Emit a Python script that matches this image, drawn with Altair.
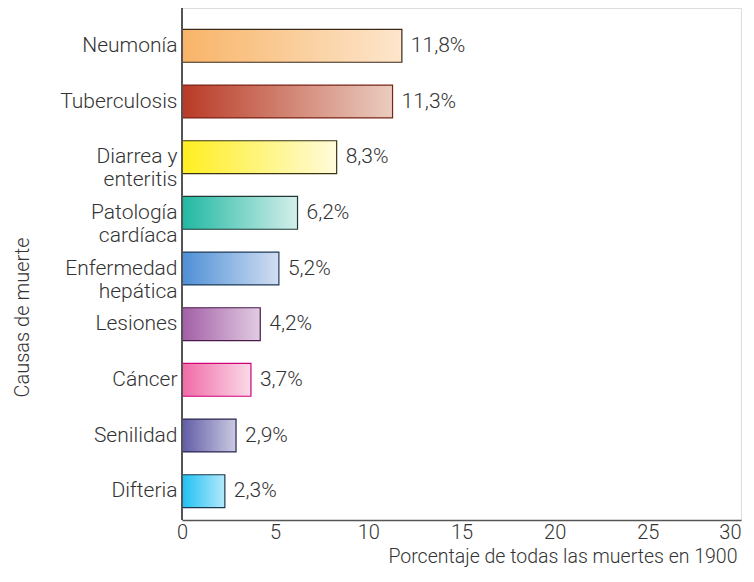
import altair as alt
import pandas as pd

causes = ["Neumonía", "Tuberculosis", "Diarrea y\nenteritis", "Patología\ncardíaca",
          "Enfermedad\nhepática", "Lesiones", "Cáncer", "Senilidad", "Difteria"]
values = [11.8, 11.3, 8.3, 6.2, 5.2, 4.2, 3.7, 2.9, 2.3]
labels = ["11,8%", "11,3%", "8,3%", "6,2%", "5,2%", "4,2%", "3,7%", "2,9%", "2,3%"]
dark_colors = ["#F8B468", "#B93A26", "#FFEE20", "#1FB8A2", "#4D8FD6", "#A25EA6", "#F06AA6", "#615CA6", "#1EC0F2"]
light_colors = ["#FDE6CC", "#EACDC0", "#FFFBDA", "#D4EFEA", "#D2DEF2", "#E2CCE2", "#FADAE8", "#CACAE2", "#B4E9FB"]
stroke_colors = ["#3A2A1A", "#7A2418", "#3A3410", "#1F3A34", "#1F3A5A", "#4A1A4A", "#D0007A", "#2A2450", "#1A3A50"]

df = pd.DataFrame({"cause": causes, "value": values, "label": labels})

FONT = "Roboto"
FW = 300
FS = 21
FSX = 20
FST = 19.5
TXT = "#333333"
H = 512
W = 559

y_enc = alt.Y("cause:N", sort=causes,
              scale=alt.Scale(domain=causes, range=[10, 511], paddingInner=0.41, paddingOuter=0.205),
              axis=alt.Axis(title="Causas de muerte", domain=False, ticks=False, labelPadding=5,
                            labelExpr="split(datum.label, '\\n')", labelLineHeight=23,
                            labelFont=FONT, labelFontSize=FS, labelFontWeight=FW, labelColor=TXT,
                            titleFont=FONT, titleFontSize=FSX, titleFontWeight=FW, titleColor=TXT,
                            titleX=-160, titleY=309, titleAngle=-90, titleAlign="center",
                            titleBaseline="middle"))
x_enc = alt.X("value:Q",
              scale=alt.Scale(domain=[0, 30], nice=False),
              axis=alt.Axis(title="Porcentaje de todas las muertes en 1900", values=[0, 5, 10, 15, 20, 25, 30],
                            grid=False, ticks=False, labelPadding=2, labelFlush=False,
                            labelAlign=alt.condition("datum.value == 30", alt.value("right"), alt.value("center")),
                            domainColor="#555555", domainWidth=1.5,
                            labelFont=FONT, labelFontSize=FSX, labelFontWeight=FW, labelColor=TXT,
                            titleFont=FONT, titleFontSize=FST, titleFontWeight=FW, titleColor=TXT,
                            titleAnchor="end", titleAlign="right", titleX=555, titleY=42,
                            titleBaseline="alphabetic"))

layers = []
for c, d, l, s in zip(causes, dark_colors, light_colors, stroke_colors):
    grad = alt.Gradient(gradient="linear",
                        stops=[alt.GradientStop(color=d, offset=0), alt.GradientStop(color=l, offset=1)],
                        x1=0, x2=1, y1=0, y2=0)
    layers.append(
        alt.Chart(df).transform_filter(alt.datum.cause == c)
        .mark_bar(color=grad, stroke=s, strokeWidth=1.2)
        .encode(x=x_enc, y=y_enc)
    )

text = alt.Chart(df).mark_text(align="left", baseline="middle", dx=9, font=FONT, fontSize=FS,
                               fontWeight=FW, color=TXT).encode(
    x=alt.X("value:Q"), y=alt.Y("cause:N", sort=causes), text="label:N")

yline = alt.Chart(df).mark_rule(color="#555555", strokeWidth=1.5).encode(
    x=alt.value(0), y=alt.value(0), y2=alt.value(H))

chart = alt.layer(*layers, text, yline).properties(
    width=W, height=H,
    padding={"left": 174, "top": 0, "right": 5, "bottom": 48},
    autosize=alt.AutoSizeParams(type="none"),
).configure_view(stroke=None).configure(background="white")

chart.save("out.html", embed_options={"renderer": "svg", "actions": False})
